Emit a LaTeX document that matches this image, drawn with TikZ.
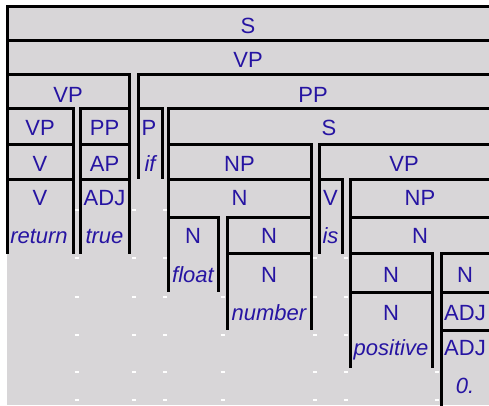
\documentclass[tikz,border=0pt]{standalone}
\usepackage{fontspec}
\setmainfont{Liberation Sans}
\definecolor{bg}{RGB}{216,214,216}
\definecolor{ink}{RGB}{38,20,162}
\tikzset{
  lab/.style={anchor=base, text=ink, inner sep=0pt, font=\fontsize{22}{26}\selectfont},
  wlab/.style={lab, font=\fontsize{22}{26}\selectfont\itshape},
  rule/.style={line width=3pt, line cap=rect, black},
  tick/.style={white, line width=1.2pt}
}
\begin{document}
\begin{tikzpicture}[x=1pt,y=-1pt]
\useasboundingbox (0,0) rectangle (489,405);
\fill[bg] (7,6) rectangle (489,405);
% white grid ticks
\foreach \yy in {210,258,297,335,372,400}{
  \foreach \xx in {76.5,134,165}{
    \draw[tick] (\xx-2,\yy) -- (\xx+2,\yy);
  }
}
\foreach \yy in {297,335,372,400}{
  \foreach \xx in {222.5}{
    \draw[tick] (\xx-2,\yy) -- (\xx+2,\yy);
  }
}
\foreach \yy in {258,297,335,372,400}{
  \foreach \xx in {315,346}{
    \draw[tick] (\xx-2,\yy) -- (\xx+2,\yy);
  }
}
\foreach \yy in {372,400}{
  \draw[tick] (434.5,\yy) -- (438.5,\yy);
}
% horizontal box tops
\draw[rule] (7,6) -- (489,6);
\draw[rule] (7,40) -- (489,40);
\draw[rule] (7,74) -- (129,74);
\draw[rule] (138,74) -- (489,74);
\draw[rule] (7,108) -- (73,108);
\draw[rule] (80,108) -- (129,108);
\draw[rule] (138,108) -- (162,108);
\draw[rule] (168,108) -- (489,108);
\draw[rule] (7,144) -- (73,144);
\draw[rule] (80,144) -- (129,144);
\draw[rule] (168,144) -- (311,144);
\draw[rule] (319,144) -- (489,144);
\draw[rule] (7,179) -- (73,179);
\draw[rule] (80,179) -- (129,179);
\draw[rule] (168,179) -- (311,179);
\draw[rule] (319,179) -- (342,179);
\draw[rule] (350,179) -- (489,179);
\draw[rule] (168,217) -- (218,217);
\draw[rule] (227,217) -- (311,217);
\draw[rule] (350,217) -- (489,217);
\draw[rule] (227,253) -- (311,253);
\draw[rule] (350,253) -- (432,253);
\draw[rule] (441,253) -- (489,253);
\draw[rule] (350,292) -- (432,292);
\draw[rule] (441,292) -- (489,292);
\draw[rule] (441,330) -- (489,330);
% vertical box sides
\draw[rule] (7,6) -- (7,252);
\draw[rule] (73,108) -- (73,252);
\draw[rule] (80,108) -- (80,252);
\draw[rule] (129,74) -- (129,252);
\draw[rule] (138,74) -- (138,177);
\draw[rule] (162,108) -- (162,177);
\draw[rule] (168,108) -- (168,290);
\draw[rule] (218,217) -- (218,290);
\draw[rule] (227,217) -- (227,328);
\draw[rule] (311,144) -- (311,328);
\draw[rule] (319,144) -- (319,252);
\draw[rule] (342,179) -- (342,252);
\draw[rule] (350,179) -- (350,366);
\draw[rule] (432,253) -- (432,366);
\draw[rule] (441,253) -- (441,410);
% labels
\node[lab] (s1) at (248,33) {S};
\node[lab] (vp2) at (248,67) {VP};
\node[lab] (vp3) at (68,102) {VP};
\node[lab] (pp3) at (313,102) {PP};
\node[lab] (vp4) at (40,135) {VP};
\node[lab] (pp4) at (104.5,135) {PP};
\node[lab] (p4) at (149,135) {P};
\node[lab] (s4) at (329,135) {S};
\node[lab] (v5) at (40,171) {V};
\node[lab] (ap5) at (104.5,171) {AP};
\node[wlab] (if5) at (150,171) {if};
\node[lab] (np5) at (239.5,171) {NP};
\node[lab] (vp5) at (404,171) {VP};
\node[lab] (v6) at (40,205) {V};
\node[lab] (adj6) at (104.5,205) {ADJ};
\node[lab] (n6) at (239.5,205) {N};
\node[lab] (v6b) at (330.5,205) {V};
\node[lab] (np6) at (420,205) {NP};
\node[wlab] (return7) at (39,243) {return};
\node[wlab] (true7) at (104.5,243) {true};
\node[lab] (n7a) at (193,243) {N};
\node[lab] (n7b) at (269,243) {N};
\node[wlab] (is7) at (330.5,243) {is};
\node[lab] (n7c) at (420,243) {N};
\node[wlab] (float8) at (193,282) {float};
\node[lab] (n8a) at (269,282) {N};
\node[lab] (n8b) at (391,282) {N};
\node[lab] (n8c) at (465,282) {N};
\node[wlab] (number9) at (269,320) {number};
\node[lab] (n9) at (391,320) {N};
\node[lab] (adj9) at (465,320) {ADJ};
\node[wlab] (positive10) at (391,355) {positive};
\node[lab] (adj10) at (465,355) {ADJ};
\node[wlab] (zero11) at (465,393) {0.};
\end{tikzpicture}
\end{document}
